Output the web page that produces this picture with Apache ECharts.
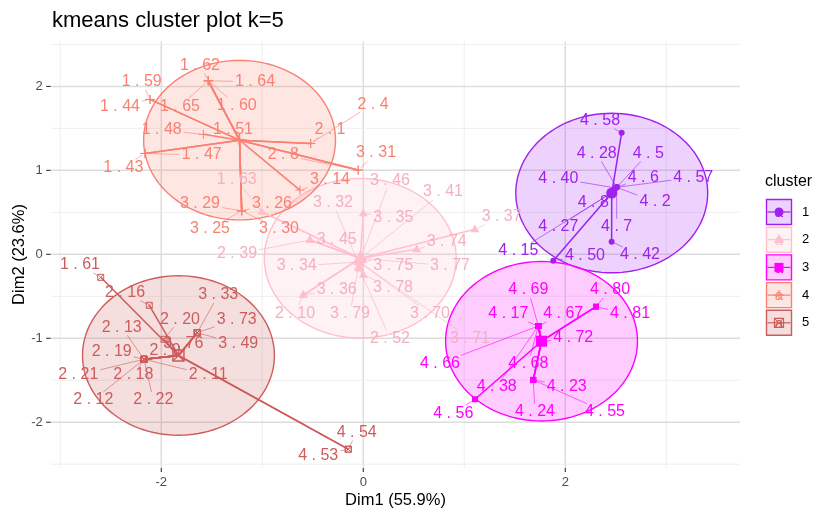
<!DOCTYPE html>
<html>
<head>
<meta charset="utf-8">
<script src="https://cdn.jsdelivr.net/npm/echarts@6/dist/echarts.min.js"></script>
<style>
  html, body { margin: 0; padding: 0; background: #ffffff; }
  #chart { width: 813px; height: 512px; }
</style>
</head>
<body>
<div id="chart"></div>
<script>
// ---- cluster definitions ----
const clusterNames = ['1', '2', '3', '4', '5'];
const clusterColors = ['#A020F0', '#FFC0CB', '#FF00FF', '#FA8072', '#CD5C5C'];
const labelColors = ['#A020F0', '#F4B0BD', '#FF00FF', '#FA8072', '#CD5C5C'];
const centerDim1 = [2.46, -0.03, 1.765, -1.225, -1.83];
const centerDim2 = [0.73, -0.047, -1.035, 1.36, -1.205];
const ellipseLevel = 0.95;

// ---- observations (Dim1, Dim2, row name) per cluster ----
const c1Dim1 = [2.558, 2.459, 1.881, 2.509, 2.509, 2.500, 2.509, 2.509, 2.459, 2.509, 2.459, 2.459, 2.509];
const c1Dim2 = [1.448, 0.150, -0.076, 0.798, 0.798, 0.790, 0.798, 0.798, 0.733, 0.798, 0.733, 0.733, 0.798];
const c1Names = ['4.58', '4.42', '4.50', '4.28', '4.5', '4.40', '4.6', '4.57', '4.8', '4.2', '4.27', '4.15', '4.7'];

const c2Dim1 = [-1.006, -0.528, -0.528, 0.000, 1.106, 0.529, -0.594, -0.594, 0.000, -0.052, -0.030, -0.020, -0.052, -0.030, -0.030, -0.050, -0.040, -0.030, -0.030];
const c2Dim2 = [0.507, 0.170, 0.170, 0.488, 0.298, 0.060, -0.485, -0.485, -0.246, -0.092, -0.060, -0.040, -0.092, -0.047, -0.047, -0.160, -0.170, -0.100, -0.100];
const c2Names = ['1.63', '3.45', '2.39', '3.35', '3.37', '3.74', '3.36', '2.10', '3.78', '3.32', '3.46', '3.41', '3.34', '3.75', '3.77', '3.79', '2.52', '3.70', '3.71'];

const c3Dim1 = [2.304, 2.304, 1.733, 1.733, 1.733, 1.733, 1.733, 1.733, 1.683, 1.683, 1.683, 1.106, 1.766];
const c3Dim2 = [-0.624, -0.624, -0.854, -0.854, -0.854, -0.854, -0.854, -0.854, -1.496, -1.496, -1.496, -1.726, -1.040];
const c3Names = ['4.80', '4.81', '4.69', '4.17', '4.67', '4.66', '4.68', '4.38', '4.23', '4.24', '4.55', '4.56', '4.72'];

const c4Dim1 = [-1.535, -1.535, -1.535, -1.535, -2.112, -2.112, -1.584, -1.230, -2.161, -2.161, -0.521, -0.521, -0.050, -0.627, -0.050, -1.204, -1.204, -1.204, -1.204];
const c4Dim2 = [2.067, 2.067, 2.067, 2.067, 1.845, 1.845, 1.429, 1.370, 1.202, 1.202, 1.321, 1.321, 1.004, 0.765, 1.004, 0.519, 0.519, 0.519, 0.519];
const c4Names = ['1.62', '1.64', '1.60', '1.65', '1.59', '1.44', '1.48', '1.51', '1.43', '1.47', '2.1', '2.4', '2.8', '3.14', '3.31', '3.29', '3.26', '3.25', '3.30'];

const c5Dim1 = [-2.600, -2.119, -1.644, -1.644, -1.644, -1.644, -1.973, -2.171, -2.171, -2.171, -2.171, -2.171, -2.171, -2.171, -2.171, -0.149, -0.149];
const c5Dim2 = [-0.274, -0.607, -0.933, -0.933, -0.933, -0.933, -1.012, -1.250, -1.250, -1.250, -1.250, -1.250, -1.250, -1.250, -1.250, -2.321, -2.321];
const c5Names = ['1.61', '2.16', '3.33', '3.73', '3.49', '3.76', '2.20', '2.13', '2.19', '2.21', '2.18', '2.12', '2.22', '2.11', '2.9', '4.53', '4.54'];

// ---- repelled text positions (Dim1, Dim2 of each label centre) ----
const c1LabelPos = [[2.344,1.590],[2.739,-0.008],[2.195,-0.020],[2.311,1.202],[2.822,1.202],[1.931,0.905],[2.772,0.917],[3.267,0.917],[2.277,0.614],[2.888,0.626],[1.931,0.329],[1.535,0.043],[2.509,0.329]];
const c2LabelPos = [[-1.253,0.885],[-0.263,0.170],[-1.250,0.004],[0.297,0.440],[1.370,0.448],[0.826,0.150],[-0.263,-0.417],[-0.676,-0.702],[0.294,-0.401],[-0.300,0.611],[0.264,0.878],[0.789,0.742],[-0.659,-0.139],[0.297,-0.139],[0.858,-0.139],[-0.132,-0.711],[0.264,-1.000],[0.660,-0.711],[1.056,-1.000]];
const c3LabelPos = [[2.443,-0.425],[2.641,-0.711],[1.634,-0.425],[1.436,-0.711],[1.980,-0.711],[0.759,-1.298],[1.634,-1.298],[1.321,-1.576],[2.014,-1.576],[1.700,-1.874],[2.393,-1.874],[0.891,-1.893],[2.079,-0.988]];
const c4LabelPos = [[-1.617,2.253],[-1.072,2.055],[-1.253,1.777],[-1.815,1.765],[-2.194,2.055],[-2.409,1.765],[-1.996,1.480],[-1.290,1.480],[-2.376,1.031],[-1.600,1.182],[-0.330,1.488],[0.096,1.789],[-0.792,1.182],[-0.330,0.885],[0.126,1.206],[-1.617,0.599],[-0.904,0.599],[-1.518,0.301],[-0.835,0.301]];
const c5LabelPos = [[-2.805,-0.127],[-2.359,-0.457],[-1.436,-0.485],[-1.253,-0.774],[-1.238,-1.068],[-1.782,-1.068],[-1.815,-0.774],[-2.392,-0.869],[-2.491,-1.160],[-2.822,-1.437],[-2.277,-1.437],[-2.673,-1.735],[-2.079,-1.735],[-1.535,-1.437],[-1.963,-1.151],[-0.446,-2.401],[-0.065,-2.124]];

// ---- axes ----
const xTicks = [-2, 0, 2];
const yTicks = [-2, -1, 0, 1, 2];
const xGrid = [-3, -2, -1, 0, 1, 2, 3];
const yGrid = [-2.5, -2, -1.5, -1, -0.5, 0, 0.5, 1, 1.5, 2, 2.5];
const xTitle = 'Dim1 (55.9%)';
const yTitle = 'Dim2 (23.6%)';
const chartTitle = 'kmeans cluster plot k=5';
const legendTitle = 'cluster';

const allDim1 = [c1Dim1, c2Dim1, c3Dim1, c4Dim1, c5Dim1];
const allDim2 = [c1Dim2, c2Dim2, c3Dim2, c4Dim2, c5Dim2];
const allNames = [c1Names, c2Names, c3Names, c4Names, c5Names];
const allLabelPos = [c1LabelPos, c2LabelPos, c3LabelPos, c4LabelPos, c5LabelPos];

const LABEL_FONT = '16px "Liberation Sans", Arial, sans-serif';
const measureCtx = document.createElement('canvas').getContext('2d');
measureCtx.font = LABEL_FONT;
function labelText(s) { return s.replace('.', ' . '); }

function hexToRgba(hex, a) {
  const n = parseInt(hex.slice(1), 16);
  return 'rgba(' + ((n >> 16) & 255) + ',' + ((n >> 8) & 255) + ',' + (n & 255) + ',' + a + ')';
}

// point glyphs: circle, triangle, square, plus, boxed cross
function glyph(k, cx, cy, s, color, lw) {
  lw = lw || 1;
  if (k === 0) return [{ type: 'circle', shape: { cx: cx, cy: cy, r: s / 2 }, style: { fill: color } }];
  if (k === 1) return [{ type: 'polygon', shape: { points: [[cx, cy - s * 0.62], [cx - s * 0.56, cy + s * 0.36], [cx + s * 0.56, cy + s * 0.36]] }, style: { fill: color } }];
  if (k === 2) return [{ type: 'rect', shape: { x: cx - s / 2, y: cy - s / 2, width: s, height: s }, style: { fill: color } }];
  if (k === 3) return [
    { type: 'line', shape: { x1: cx - s / 2, y1: cy, x2: cx + s / 2, y2: cy }, style: { stroke: color, lineWidth: lw } },
    { type: 'line', shape: { x1: cx, y1: cy - s / 2, x2: cx, y2: cy + s / 2 }, style: { stroke: color, lineWidth: lw } }
  ];
  const h = s / 2;
  return [
    { type: 'rect', shape: { x: cx - h, y: cy - h, width: s, height: s }, style: { fill: 'none', stroke: color, lineWidth: lw } },
    { type: 'line', shape: { x1: cx - h, y1: cy - h, x2: cx + h, y2: cy + h }, style: { stroke: color, lineWidth: lw * 0.8 } },
    { type: 'line', shape: { x1: cx - h, y1: cy + h, x2: cx + h, y2: cy - h }, style: { stroke: color, lineWidth: lw * 0.8 } }
  ];
}
const pointSize = [6, 8, 6, 9, 6];
const centroidSize = [11, 13, 11, 14, 11];

// ---- series data built from the arrays ----
const pointRows = [];   // [dim1, dim2, cluster]
const starRows = [];    // [dim1, dim2, centreDim1, centreDim2, cluster]
const labelRows = [];   // [dim1, dim2, labelDim1, labelDim2, cluster, index]
for (let k = 0; k < 5; k++) {
  for (let i = 0; i < allDim1[k].length; i++) {
    const x = allDim1[k][i], y = allDim2[k][i];
    pointRows.push([x, y, k]);
    starRows.push([x, y, centerDim1[k], centerDim2[k], k]);
    labelRows.push([x, y, allLabelPos[k][i][0], allLabelPos[k][i][1], k, i]);
  }
}
const centreRows = centerDim1.map((x, k) => [x, centerDim2[k], k]);

const chart = echarts.init(document.getElementById('chart'), null, { renderer: 'canvas' });

const option = {
  animation: false,
  backgroundColor: '#ffffff',
  grid: { left: 50.7, right: 73, top: 41.5, bottom: 44, containLabel: false },
  xAxis: { type: 'value', min: -3.095, max: 3.73, show: false },
  yAxis: { type: 'value', min: -2.545, max: 2.535, show: false },
  series: [
    // panel grid, ticks and tick labels
    {
      type: 'custom', z: 1, clip: false, silent: true,
      data: [[0, 0]],
      renderItem: function (params, api) {
        const cs = params.coordSys;
        const ch = [];
        xGrid.forEach(function (v) {
          const p = api.coord([v, 0]);
          const major = xTicks.indexOf(v) >= 0;
          ch.push({ type: 'line', shape: { x1: p[0], y1: cs.y, x2: p[0], y2: cs.y + cs.height }, style: { stroke: major ? '#dddddd' : '#ededed', lineWidth: major ? 1.5 : 0.9 } });
        });
        yGrid.forEach(function (v) {
          const p = api.coord([0, v]);
          const major = yTicks.indexOf(v) >= 0;
          ch.push({ type: 'line', shape: { x1: cs.x, y1: p[1], x2: cs.x + cs.width, y2: p[1] }, style: { stroke: major ? '#dddddd' : '#ededed', lineWidth: major ? 1.5 : 0.9 } });
        });
        xTicks.forEach(function (v) {
          const p = api.coord([v, 0]);
          const yb = cs.y + cs.height;
          ch.push({ type: 'line', shape: { x1: p[0], y1: yb, x2: p[0], y2: yb + 4 }, style: { stroke: '#333333', lineWidth: 1.1 } });
          ch.push({ type: 'text', x: p[0], y: yb + 14, style: { text: String(v), font: '13px "Liberation Sans", Arial, sans-serif', fill: '#4d4d4d', align: 'center', verticalAlign: 'middle', textAlign: 'center', textVerticalAlign: 'middle' } });
        });
        yTicks.forEach(function (v) {
          const p = api.coord([0, v]);
          ch.push({ type: 'line', shape: { x1: cs.x - 4.5, y1: p[1], x2: cs.x, y2: p[1] }, style: { stroke: '#333333', lineWidth: 1.1 } });
          ch.push({ type: 'text', x: cs.x - 8, y: p[1], style: { text: String(v), font: '13px "Liberation Sans", Arial, sans-serif', fill: '#4d4d4d', align: 'right', verticalAlign: 'middle', textAlign: 'right', textVerticalAlign: 'middle' } });
        });
        return { type: 'group', children: ch };
      }
    },
    // cluster ellipses (euclidean, radius = ellipse level)
    {
      type: 'custom', z: 2, silent: true,
      data: centreRows,
      renderItem: function (params, api) {
        const cx = api.value(0), cy = api.value(1), k = api.value(2);
        const pts = [];
        for (let j = 0; j <= 120; j++) {
          const t = j / 120 * Math.PI * 2;
          pts.push(api.coord([cx + ellipseLevel * Math.cos(t), cy + ellipseLevel * Math.sin(t)]));
        }
        return { type: 'polygon', shape: { points: pts }, style: { fill: hexToRgba(clusterColors[k], 0.2), stroke: clusterColors[k], lineWidth: 1.4 } };
      }
    },
    // star segments from each cluster centre
    {
      type: 'custom', z: 3, silent: true,
      data: starRows,
      renderItem: function (params, api) {
        const a = api.coord([api.value(0), api.value(1)]);
        const b = api.coord([api.value(2), api.value(3)]);
        const k = api.value(4);
        return { type: 'line', shape: { x1: a[0], y1: a[1], x2: b[0], y2: b[1] }, style: { stroke: clusterColors[k], lineWidth: 1.5 } };
      }
    },
    // observations
    {
      type: 'custom', z: 4, silent: true,
      data: pointRows,
      renderItem: function (params, api) {
        const p = api.coord([api.value(0), api.value(1)]);
        const k = api.value(2);
        return { type: 'group', children: glyph(k, p[0], p[1], pointSize[k], clusterColors[k], 1) };
      }
    },
    // cluster centres
    {
      type: 'custom', z: 5, silent: true,
      data: centreRows,
      renderItem: function (params, api) {
        const p = api.coord([api.value(0), api.value(1)]);
        const k = api.value(2);
        return { type: 'group', children: glyph(k, p[0], p[1], centroidSize[k], clusterColors[k], 1.5) };
      }
    },
    // repelled row-name labels with leader segments
    {
      type: 'custom', z: 6, silent: true,
      data: labelRows,
      renderItem: function (params, api) {
        const p = api.coord([api.value(0), api.value(1)]);
        const l = api.coord([api.value(2), api.value(3)]);
        const k = api.value(4), i = api.value(5);
        const txt = labelText(allNames[k][i]);
        const color = labelColors[k];
        const hw = measureCtx.measureText(txt).width / 2 + 2;
        const hh = 8;
        const ch = [];
        const dx = p[0] - l[0], dy = p[1] - l[1];
        const dist = Math.sqrt(dx * dx + dy * dy);
        if (Math.abs(dx) > hw + 2 || Math.abs(dy) > hh + 2) {
          const t = Math.min(dx !== 0 ? hw / Math.abs(dx) : Infinity, dy !== 0 ? hh / Math.abs(dy) : Infinity);
          const sx = l[0] + dx * t, sy = l[1] + dy * t;
          const ex = p[0] - dx / dist * 3, ey = p[1] - dy / dist * 3;
          const segLen = Math.sqrt((ex - sx) * (ex - sx) + (ey - sy) * (ey - sy));
          if (segLen > 4) {
            ch.push({ type: 'line', shape: { x1: sx, y1: sy, x2: ex, y2: ey }, style: { stroke: color, lineWidth: 0.6 } });
          }
        }
        ch.push({ type: 'text', x: l[0], y: l[1], style: { text: txt, font: LABEL_FONT, fill: color, align: 'center', verticalAlign: 'middle', textAlign: 'center', textVerticalAlign: 'middle' } });
        return { type: 'group', children: ch };
      }
    }
  ],
  graphic: []
};

// titles
option.graphic.push({ type: 'text', x: 52, y: 21, silent: true, style: { text: chartTitle, font: '22px "Liberation Sans", Arial, sans-serif', fill: '#000000', align: 'left', verticalAlign: 'middle', textAlign: 'left', textVerticalAlign: 'middle' } });
option.graphic.push({ type: 'text', x: 395.5, y: 500, silent: true, style: { text: xTitle, font: '16.5px "Liberation Sans", Arial, sans-serif', fill: '#000000', align: 'center', verticalAlign: 'middle', textAlign: 'center', textVerticalAlign: 'middle' } });
option.graphic.push({ type: 'text', x: 19, y: 254.5, rotation: Math.PI / 2, silent: true, style: { text: yTitle, font: '16.5px "Liberation Sans", Arial, sans-serif', fill: '#000000', align: 'center', verticalAlign: 'middle', textAlign: 'center', textVerticalAlign: 'middle' } });

// legend
option.graphic.push({ type: 'text', x: 765, y: 182, silent: true, style: { text: legendTitle, font: '16px "Liberation Sans", Arial, sans-serif', fill: '#000000', align: 'left', verticalAlign: 'middle', textAlign: 'left', textVerticalAlign: 'middle' } });
const legendKeyCy = [212, 239.7, 267.4, 295.1, 322.8];
clusterNames.forEach(function (name, k) {
  const cy = legendKeyCy[k], cx = 779;
  const col = clusterColors[k];
  const children = [
    { type: 'rect', shape: { x: cx - 12.5, y: cy - 12.5, width: 25, height: 25 }, style: { fill: hexToRgba(col, 0.2), stroke: col, lineWidth: 1.4 } },
    { type: 'line', shape: { x1: cx - 11.5, y1: cy, x2: cx + 11.5, y2: cy }, style: { stroke: col, lineWidth: 1.2 } },
    { type: 'text', x: cx, y: cy + 1, style: { text: 'a', font: '15px "Liberation Sans", Arial, sans-serif', fill: col, align: 'center', verticalAlign: 'middle', textAlign: 'center', textVerticalAlign: 'middle' } }
  ].concat(glyph(k, cx, cy, k === 3 ? 10 : 9, col, 1.2));
  option.graphic.push({ type: 'group', silent: true, children: children });
  option.graphic.push({ type: 'text', x: 802, y: cy, silent: true, style: { text: name, font: '13px "Liberation Sans", Arial, sans-serif', fill: '#000000', align: 'left', verticalAlign: 'middle', textAlign: 'left', textVerticalAlign: 'middle' } });
});

chart.setOption(option);
</script>
</body>
</html>
